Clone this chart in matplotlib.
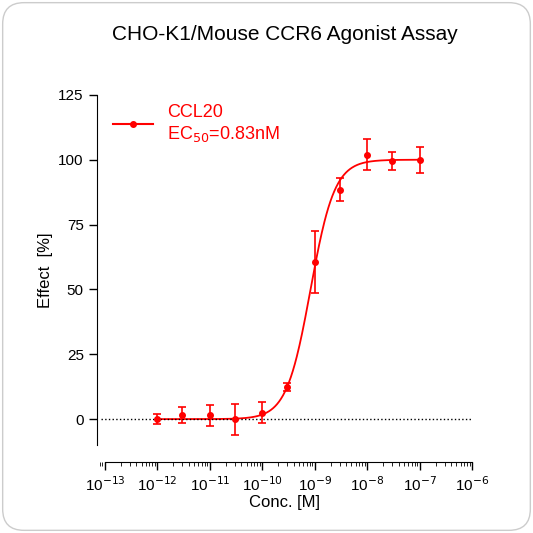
import numpy as np
import matplotlib
matplotlib.use("Agg")
import matplotlib.pyplot as plt
from matplotlib.patches import FancyBboxPatch

plt.rcParams["font.family"] = ["Liberation Sans", "DejaVu Sans"]

conc = [1e-12, 3e-12, 1e-11, 3e-11, 1e-10, 3e-10, 1e-9, 3e-9, 1e-8, 3e-8, 1e-7]
effect = [0, 1.5, 1.5, 0, 2.5, 12.5, 60.5, 88.5, 102, 99.5, 100]
err = [2, 3, 4, 6, 4, 1.5, 12, 4.5, 6, 3.5, 5]
ec50 = 0.83e-9
hill = 1.9

fig = plt.figure(figsize=(5.33, 5.33), dpi=100)
card = FancyBboxPatch((0.005, 0.005), 0.99, 0.99, boxstyle="round,pad=0,rounding_size=0.04",
                      transform=fig.transFigure, fc="white", ec="#cccccc", lw=1, zorder=-10)
fig.patches.append(card)
ax = fig.add_axes([0.182, 0.165, 0.704, 0.657])
ax.set_zorder(5)
ax.patch.set_alpha(0)
red = "#ff0000"
xs = np.logspace(-12, -7, 400)
ax.plot(xs, 100 / (1 + (ec50 / xs) ** hill), color=red, lw=1.3)
ax.errorbar(conc, effect, yerr=err, fmt="o", color=red, ms=4, capsize=3, elinewidth=1.2, capthick=1.2)
ax.plot([], [], "-o", color=red, ms=4, label="CCL20\nEC$_{50}$=0.83nM")
ax.axhline(0, xmin=0.01, color="black", ls=":", lw=1)
ax.set_xscale("log")
ax.set_xlim(10 ** -13.15, 1e-6)
ax.set_ylim(-10, 125)
ax.set_yticks([0, 25, 50, 75, 100, 125])
ax.set_xticks([10.0 ** k for k in range(-13, -5)])
ax.set_xticklabels([f"10$^{{{k}}}$" for k in range(-13, -5)], color="#333333")
ax.xaxis.set_minor_locator(matplotlib.ticker.LogLocator(subs=np.arange(2, 10), numticks=20))
ax.xaxis.set_minor_formatter(matplotlib.ticker.NullFormatter())
for s in ["top", "right"]:
    ax.spines[s].set_visible(False)
ax.spines["bottom"].set_position(("outward", 12))
ax.spines["bottom"].set_bounds(1e-13, 1e-6)
ax.tick_params(labelsize=11, width=1, length=6)
ax.tick_params(axis="x", which="minor", length=3)
ax.set_xlabel("Conc. [M]", fontsize=12, labelpad=1)
ax.set_ylabel("Effect  [%]", fontsize=12)
ax.legend(loc="upper left", bbox_to_anchor=(0.0, 1.02), frameon=False, fontsize=13,
          labelcolor=red, handlelength=2.2)
fig.text(0.535, 0.935, "CHO-K1/Mouse CCR6 Agonist Assay", ha="center", va="center", fontsize=15)
fig.savefig("out.png", dpi=100)
